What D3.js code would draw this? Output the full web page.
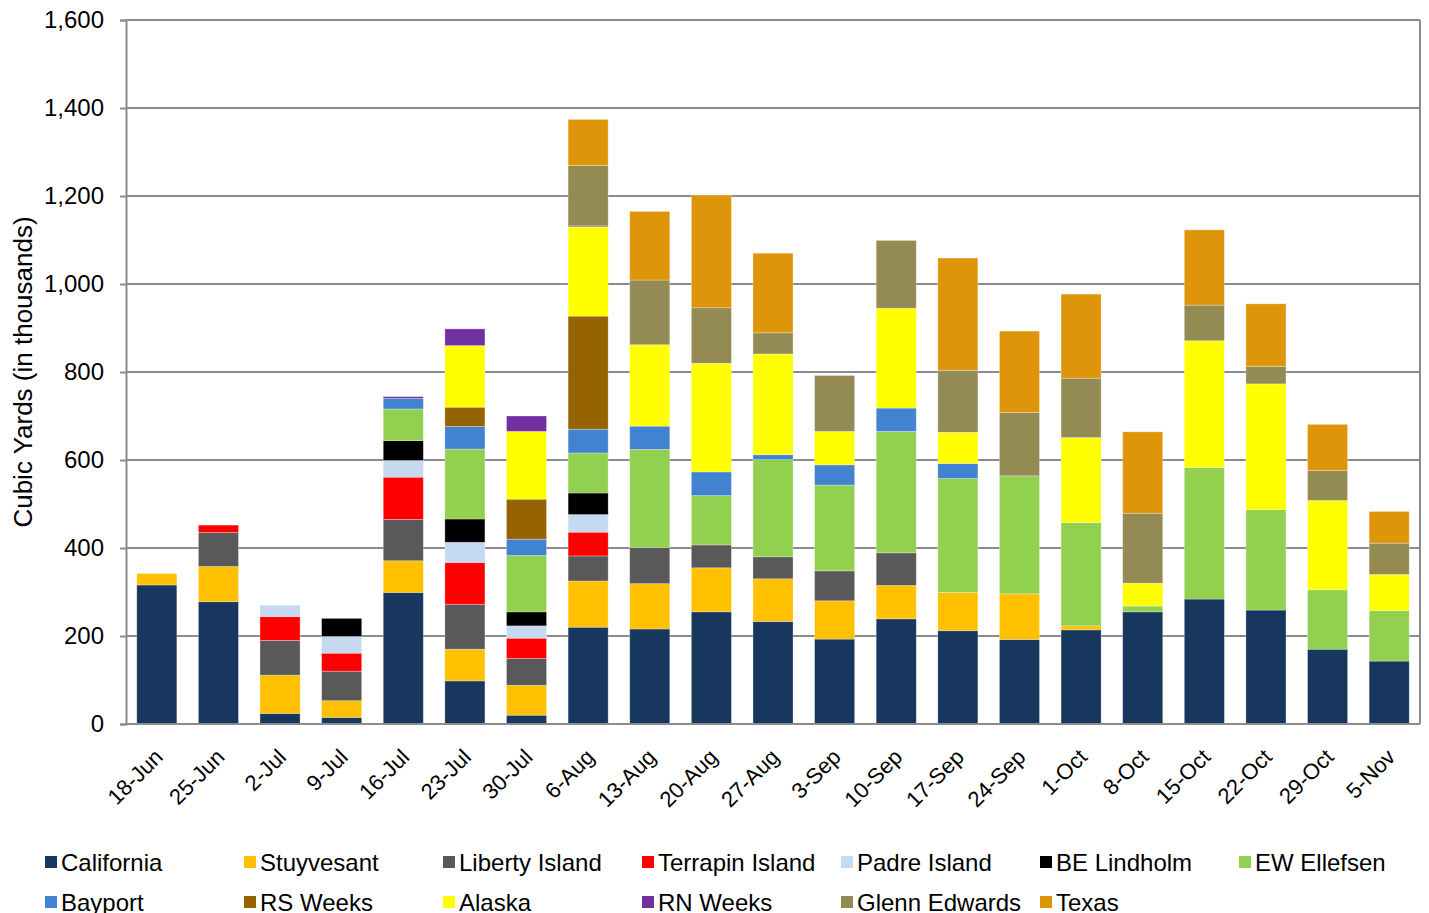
<!DOCTYPE html>
<html>
<head>
<meta charset="utf-8">
<script src="https://cdn.jsdelivr.net/npm/d3@7"></script>
<style>
  body { margin: 0; background: #fff; }
  svg { display: block; font-family: "Liberation Sans", Arial, sans-serif; }
</style>
</head>
<body>
<svg id="chart" width="1429" height="913"></svg>
<script>
// weeks on the x axis
const weeks = ["18-Jun", "25-Jun", "2-Jul", "9-Jul", "16-Jul", "23-Jul", "30-Jul", "6-Aug", "13-Aug", "20-Aug", "27-Aug",
	"3-Sep", "10-Sep", "17-Sep", "24-Sep", "1-Oct", "8-Oct", "15-Oct", "22-Oct", "29-Oct", "5-Nov"];

// cubic yards per dredge (thousands)
const california   = [316, 278, 24, 15, 299, 98, 20, 220, 216, 255, 233, 193, 239, 212, 192, 214, 255, 284, 259, 170, 143];
const stuyvesant   = [26, 80, 87, 38, 72, 72, 68, 105, 103, 100, 97, 87, 76, 87, 104, 9, 0, 0, 0, 0, 0];
const libertyIsland = [0, 77, 79, 67, 94, 102, 61, 57, 82, 52, 50, 68, 74, 0, 0, 0, 0, 0, 0, 0, 0];
const terrapinIsland = [0, 17, 54, 41, 96, 95, 46, 54, 0, 0, 0, 0, 0, 0, 0, 0, 0, 0, 0, 0, 0];
const padreIsland  = [0, 0, 26, 38, 38, 46, 28, 40, 0, 0, 0, 0, 0, 0, 0, 0, 0, 0, 0, 0, 0];
const beLindholm   = [0, 0, 0, 41, 45, 53, 32, 49, 0, 0, 0, 0, 0, 0, 0, 0, 0, 0, 0, 0, 0];
const ewEllefsen   = [0, 0, 0, 0, 72, 159, 128, 91, 223, 112, 221, 195, 276, 259, 268, 235, 13, 299, 228, 135, 115];
const bayport      = [0, 0, 0, 0, 24, 51, 37, 54, 53, 54, 11, 46, 53, 34, 0, 0, 0, 0, 0, 0, 0];
const rsWeeks      = [0, 0, 0, 0, 0, 44, 91, 257, 0, 0, 0, 0, 0, 0, 0, 0, 0, 0, 0, 0, 0];
const alaska       = [0, 0, 0, 0, 0, 140, 154, 203, 185, 247, 229, 76, 227, 71, 0, 193, 52, 288, 286, 203, 82];
const rnWeeks      = [0, 0, 0, 0, 4, 38, 35, 2, 0, 0, 0, 0, 0, 0, 0, 0, 0, 0, 0, 0, 0];
const glennEdwards = [0, 0, 0, 0, 0, 0, 0, 137, 147, 126, 48, 127, 154, 141, 144, 135, 159, 81, 40, 68, 71];
const texas        = [0, 0, 0, 0, 0, 0, 0, 105, 156, 256, 181, 0, 0, 255, 185, 191, 185, 171, 142, 105, 72];

const seriesNames = ["California", "Stuyvesant", "Liberty Island", "Terrapin Island", "Padre Island", "BE Lindholm",
	"EW Ellefsen", "Bayport", "RS Weeks", "Alaska", "RN Weeks", "Glenn Edwards", "Texas"];
const seriesValues = [california, stuyvesant, libertyIsland, terrapinIsland, padreIsland, beLindholm,
	ewEllefsen, bayport, rsWeeks, alaska, rnWeeks, glennEdwards, texas];
const seriesColors = ["#17375e", "#ffc000", "#595959", "#ff0000", "#c5d9f1", "#000000",
	"#92d050", "#4183d0", "#956302", "#ffff00", "#7030a0", "#948a54", "#df950a"];

const yTicks = [0, 200, 400, 600, 800, 1000, 1200, 1400, 1600];

const margin = {top: 20, right: 9, bottom: 189, left: 126},
	width = 1429,
	height = 913;

const svg = d3.select("#chart");

// table for d3.stack
const table = weeks.map((w, i) => {
	const row = {week: w};
	seriesNames.forEach((s, j) => { row[s] = seriesValues[j][i]; });
	return row;
});

const stacked = d3.stack().keys(seriesNames)(table);

const x = d3.scaleBand()
	.domain(weeks)
	.range([margin.left, width - margin.right])
	.paddingInner(0.35)
	.paddingOuter(0.175);

const y = d3.scaleLinear()
	.domain([0, 1600])
	.range([height - margin.bottom, margin.top]);

const color = d3.scaleOrdinal().domain(seriesNames).range(seriesColors);

// gridlines
svg.append("g")
	.selectAll("line")
	.data(yTicks.slice(1))
	.join("line")
	.attr("x1", margin.left)
	.attr("x2", width - margin.right)
	.attr("y1", d => y(d))
	.attr("y2", d => y(d))
	.attr("stroke", "#8c8c8c")
	.attr("stroke-width", 2);

// right border of plot area
svg.append("line")
	.attr("x1", width - margin.right)
	.attr("x2", width - margin.right)
	.attr("y1", y(1600))
	.attr("y2", y(0))
	.attr("stroke", "#8c8c8c")
	.attr("stroke-width", 2);

// bars
svg.append("g")
	.selectAll("g")
	.data(stacked)
	.join("g")
	.attr("fill", d => color(d.key))
	.selectAll("rect")
	.data(d => d.filter(p => p[1] - p[0] > 0))
	.join("rect")
	.attr("x", d => x(d.data.week))
	.attr("width", x.bandwidth())
	.attr("y", d => y(d[1]))
	.attr("height", d => y(d[0]) - y(d[1]))
	.attr("stroke", "#ffffff")
	.attr("stroke-opacity", 0.35)
	.attr("stroke-width", 0.8);

// y axis
const yAxis = g => g
	.attr("transform", `translate(${margin.left},0)`)
	.call(d3.axisLeft(y).tickValues(yTicks).tickFormat(d3.format(",")).tickSizeOuter(0).tickSize(6).tickPadding(16))
	.call(g => g.select(".domain").attr("stroke", "#8c8c8c").attr("stroke-width", 2))
	.call(g => g.selectAll(".tick line").attr("stroke", "#8c8c8c").attr("stroke-width", 2))
	.call(g => g.selectAll(".tick text").attr("font-size", 24).attr("fill", "#000")
		.attr("font-family", "Liberation Sans, Arial, sans-serif"));

svg.append("g").call(yAxis);

// x axis
const xAxis = g => g
	.attr("transform", `translate(0,${y(0)})`)
	.call(d3.axisBottom(x).tickSize(0).tickSizeOuter(0))
	.call(g => g.select(".domain").attr("stroke", "#8c8c8c").attr("stroke-width", 2)
		.attr("d", `M${margin.left},0H${width - margin.right}`))
	.call(g => g.selectAll(".tick text")
		.attr("font-size", 22)
		.attr("fill", "#000")
		.attr("font-family", "Liberation Sans, Arial, sans-serif")
		.attr("text-anchor", "end")
		.attr("transform", "translate(2,29) rotate(-45)")
		.attr("y", 0)
		.attr("dy", "0.35em"));

svg.append("g").call(xAxis);

// y title
svg.append("text")
	.attr("transform", `translate(32,${(y(0) + y(1600)) / 2}) rotate(-90)`)
	.attr("text-anchor", "middle")
	.attr("font-size", 26)
	.attr("fill", "#000")
	.text("Cubic Yards (in thousands)");

// legend, two rows of seven
const legend = svg.append("g")
	.selectAll("g")
	.data(seriesNames)
	.join("g")
	.attr("transform", (d, i) => `translate(${45 + (i % 7) * 199},${862 + Math.floor(i / 7) * 40})`);

legend.append("rect")
	.attr("x", 0)
	.attr("y", -6)
	.attr("width", 12)
	.attr("height", 12)
	.attr("fill", d => color(d));

legend.append("text")
	.attr("x", 16)
	.attr("y", 0)
	.attr("dy", "0.36em")
	.attr("font-size", 24)
	.attr("fill", "#000")
	.text(d => d);
</script>
</body>
</html>
